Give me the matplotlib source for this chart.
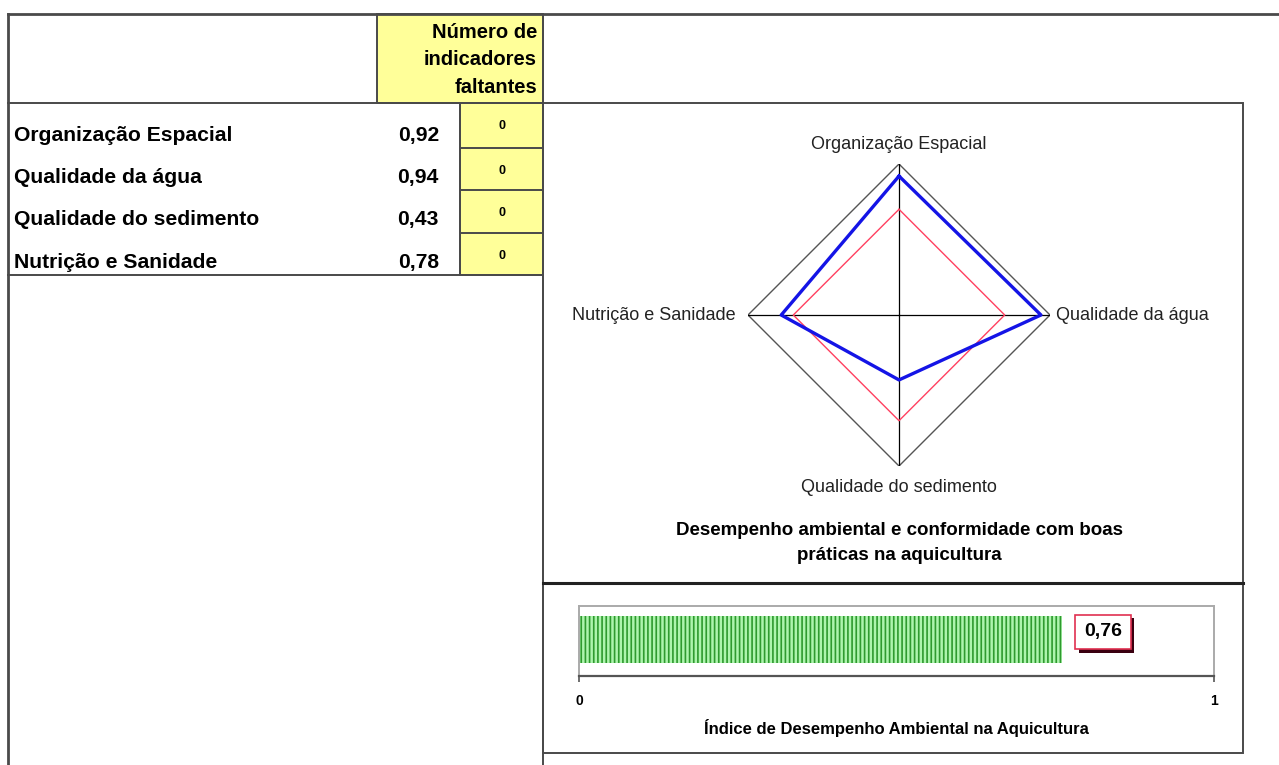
import numpy as np
import matplotlib
matplotlib.use("Agg")
from matplotlib import pyplot as plt
from matplotlib.patches import Rectangle
import matplotlib.patheffects as pe

#Data read from the sheet
categories = ["Organização Espacial", "Qualidade da água", "Qualidade do sedimento", "Nutrição e Sanidade"]
values = [0.92, 0.94, 0.43, 0.78]
value_labels = ["0,92", "0,94", "0,43", "0,78"]
missing = [0, 0, 0, 0]
reference = [0.7, 0.7, 0.7, 0.7]
index_value = 0.76
index_label = "0,76"
header_lines = ["Número de", "indicadores", "faltantes"]
radar_title = "Desempenho ambiental e conformidade com boas\npráticas na aquicultura"
bar_title = "Índice de Desempenho Ambiental na Aquicultura"

plt.rcParams["font.family"] = ["Liberation Sans", "DejaVu Sans"]
W, H = 1279, 765
fig = plt.figure(figsize=(W/100, H/100), dpi=100)
fig.patch.set_facecolor("white")

#Background layer in pixel coordinates for the table and frames
bg = fig.add_axes([0, 0, 1, 1])
bg.set_xlim(0, W)
bg.set_ylim(H, 0)
bg.axis("off")

line_c = "#4a4a4a"
yellow = "#ffff99"

bg.add_patch(Rectangle((377, 14), 543-377, 103-14, facecolor=yellow, edgecolor=line_c, lw=1.4))
bg.add_patch(Rectangle((460, 103), 543-460, 275-103, facecolor=yellow, edgecolor=line_c, lw=1.4))
bg.plot([8, W], [14, 14], color=line_c, lw=2)
bg.plot([8, 8], [14, H], color=line_c, lw=2)
bg.plot([8, 543], [103, 103], color=line_c, lw=1.4)
bg.plot([8, 543], [275, 275], color=line_c, lw=1.4)
bg.plot([460, 460], [103, 275], color=line_c, lw=1.4)
bg.plot([543, 543], [14, H], color=line_c, lw=1.4)

#Header of the missing indicators column
for i, t in enumerate(header_lines):
    bg.text(537, 32 + i*27.5, t, ha="right", va="center", fontsize=14.5, fontweight="bold")

#Rows of the table
row_y = [135, 177, 219, 262]
cell_edges = [103, 148, 190, 233, 275]
for i in range(len(categories)):
    bg.text(14, row_y[i], categories[i], ha="left", va="center", fontsize=15.2, fontweight="bold")
    bg.text(439, row_y[i], value_labels[i], ha="right", va="center", fontsize=15.2, fontweight="bold")
    bg.text(502, cell_edges[i] + 23, str(missing[i]), ha="center", va="center", fontsize=9, fontweight="bold")
    if i > 0:
        bg.plot([460, 543], [cell_edges[i], cell_edges[i]], color=line_c, lw=1.4)

#Frames of the two chart panels
bg.add_patch(Rectangle((543, 103), 1243-543, 583-103, facecolor="none", edgecolor=line_c, lw=1.4))
bg.add_patch(Rectangle((543, 583), 1243-543, 753-583, facecolor="none", edgecolor=line_c, lw=1.4))
bg.plot([543, 1243], [583, 583], color="#222222", lw=2.2)

bg.text(899, 543, radar_title, ha="center", va="center", fontsize=13.5, fontweight="bold", linespacing=1.55)

#Radar chart
cx, cy, rad = 899, 315, 151
ax = fig.add_axes([(cx-rad)/W, (H-cy-rad)/H, 2*rad/W, 2*rad/H], projection="polar")
ax.set_theta_offset(np.pi/2)
ax.set_theta_direction(-1)
ax.set_ylim(0, 1)
ax.grid(False)
ax.set_xticks([])
ax.set_yticks([])
ax.spines["polar"].set_visible(False)
ax.patch.set_alpha(0)

angles = np.linspace(0, 2*np.pi, len(categories), endpoint=False)
closed = np.append(angles, angles[0])
ax.plot(closed, [1]*(len(categories)+1), color="#555555", lw=1)
for a in angles:
    ax.plot([a, a], [0, 1], color="black", lw=0.9)
ax.plot(closed, reference + reference[:1], color="#ff4060", lw=1)
ax.plot(closed, values + values[:1], color="#1414e6", lw=2.4)

label_r = [1.13, 1.04, 1.145, 1.08]
label_ha = ["center", "left", "center", "right"]
for a, t, r, h in zip(angles, categories, label_r, label_ha):
    ax.text(a, r, t, ha=h, va="center", fontsize=13, color="#222222")

#Bar of the overall index
bx0, bx1, by0, by1 = 579, 1214, 606, 676
bax = fig.add_axes([bx0/W, (H-by1)/H, (bx1-bx0)/W, (by1-by0)/H])
bax.set_xlim(0, 1)
bax.set_ylim(0, 1)
plt.rcParams["hatch.color"] = "#2f9a2f"
plt.rcParams["hatch.linewidth"] = 1.2
bax.barh([0.52], [index_value], height=0.68, left=0, color="#aef5ae", edgecolor="#2f9a2f", hatch="||||", lw=0)
for s in ["top", "right", "left"]:
    bax.spines[s].set_color("#aaaaaa")
    bax.spines[s].set_linewidth(1.4)
bax.spines["bottom"].set_color("#555555")
bax.spines["bottom"].set_linewidth(1.6)
bax.set_yticks([])
bax.set_xticks([0, 1])
bax.set_xticklabels(["0", "1"], fontsize=10, fontweight="bold")
bax.tick_params(axis="x", direction="out", length=4, width=1.2, color="#555555", pad=9)
bax.set_xlabel(bar_title, fontsize=12, fontweight="bold", labelpad=8)

vt = bax.text(index_value + 0.035, 0.63, index_label, ha="left", va="center", fontsize=14, fontweight="bold",
              bbox=dict(boxstyle="square,pad=0.45", facecolor="white", edgecolor="#e03050", lw=1.2))
vt.get_bbox_patch().set_path_effects([pe.SimplePatchShadow(offset=(2.5, -2.5), shadow_rgbFace="#3a0010", alpha=1), pe.Normal()])

plt.savefig("out.png", dpi=100)
